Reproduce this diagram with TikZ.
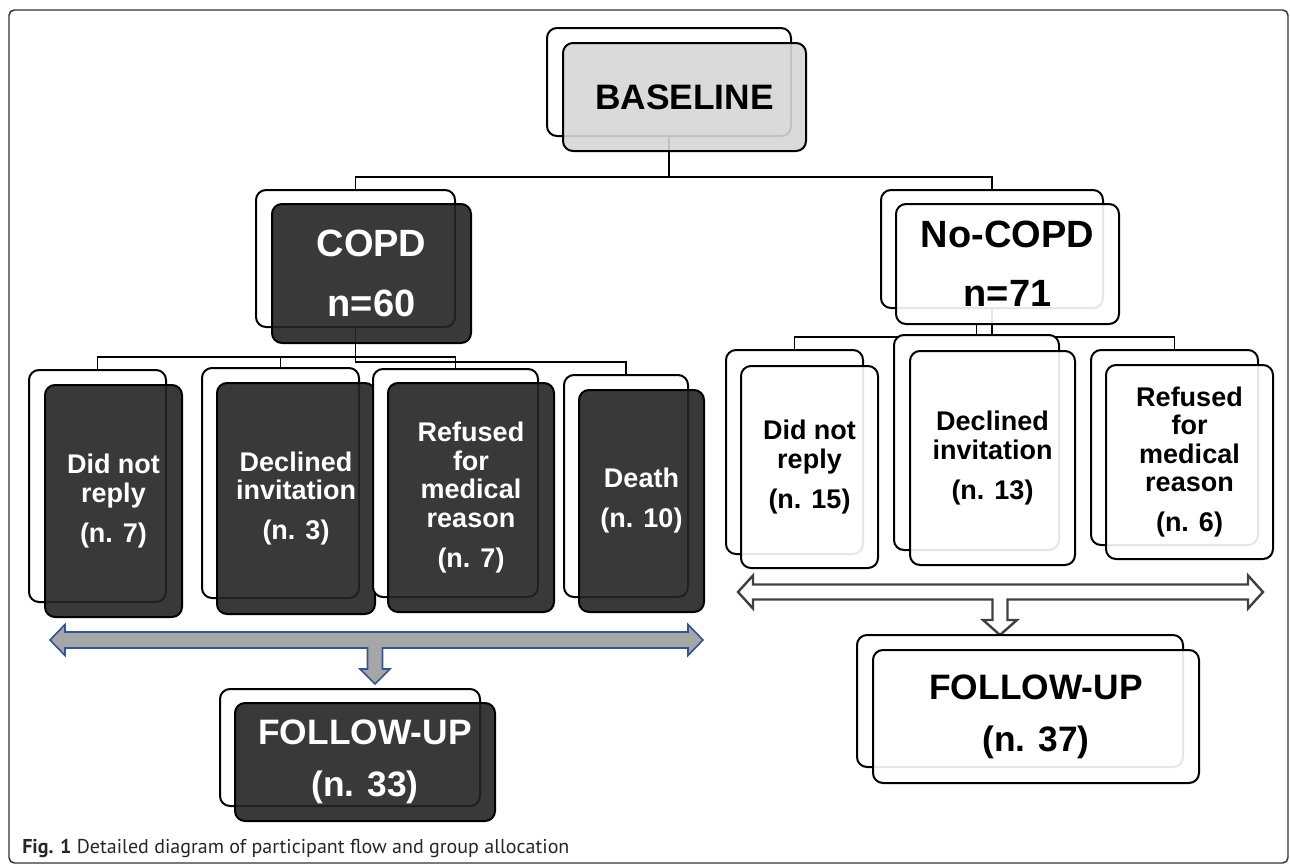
\documentclass[tikz,border=0pt]{standalone}
\usepackage{fontspec}
\setmainfont{Liberation Sans}
\newfontfamily\capfont{PT Sans}
\usetikzlibrary{fit}
\definecolor{boxdark}{RGB}{36,36,36}
\definecolor{basegray}{RGB}{214,214,214}
\definecolor{arrowgray}{RGB}{166,166,166}
\definecolor{arrowblue}{RGB}{50,85,150}
\definecolor{arrowdark}{RGB}{64,64,64}
\begin{document}
\begin{tikzpicture}[x=0.75pt,y=-0.75pt]
\tikzset{
  conn/.style={draw=black, line width=1.2pt},
  bx/.style={rounded corners=7.5pt, line width=1.5pt, draw=black, inner sep=0pt, outer sep=0pt},
  backbox/.style={bx, fill=white},
  frontbox/.style={bx, fill opacity=0.9},
  big/.style={font=\bfseries\fontsize{26.5}{44}\selectfont, align=center, inner sep=0pt},
  group/.style={font=\bfseries\fontsize{28.5}{44.5}\selectfont, align=center, inner sep=0pt},
  small/.style={font=\bfseries\fontsize{20.25}{21.4}\selectfont, align=center, inner sep=0pt},
}
\useasboundingbox (0,0) rectangle (1290,864);
% outer frame
\draw[line width=1.1pt, draw=black!80, rounded corners=4pt] (9,10) rectangle (1288,863);

% coordinates for boxes
\coordinate (bB1) at (547,28);  \coordinate (bB2) at (791,136);
\coordinate (bF1) at (563,43);  \coordinate (bF2) at (806,151);
\coordinate (cB1) at (256,190); \coordinate (cB2) at (455,327);
\coordinate (cF1) at (272,204); \coordinate (cF2) at (471,343);
\coordinate (nB1) at (881,190); \coordinate (nB2) at (1103,308);
\coordinate (nF1) at (896,204); \coordinate (nF2) at (1119,324);

% ---- connectors (drawn first, behind boxes) ----
\node[fit=(bB1)(bB2), inner sep=0pt] (baseBg) {};
\node[fit=(cB1)(cB2), inner sep=0pt] (copdBg) {};
\node[fit=(nB1)(nB2), inner sep=0pt] (nocBg) {};
\node[fit=(nF1)(nF2), inner sep=0pt] (nocFg) {};
\coordinate (l1t) at (97.5,370);
\coordinate (l2t) at (280.5,368);
\coordinate (l3t) at (455.5,369);
\coordinate (l4t) at (626,375);
\coordinate (r1t) at (794.5,350);
\coordinate (r2t) at (976.5,335);
\coordinate (r3t) at (1174.5,350);

\draw[conn] (baseBg.south) -- (669,177) coordinate (topbar);
\draw[conn] (copdBg.north) |- (topbar) -| (nocBg.north);
\draw[conn] (copdBg.south) -- (355.5,362) -| (l4t);
\draw[conn] (l1t) |- (355.5,357) coordinate (lbar);
\draw[conn] (lbar) -| (l3t);
\draw[conn] (l2t) -- (280.5,357);
\draw[conn] (nocBg.south) -- (992,337) coordinate (rbar);
\draw[conn] (r1t) |- (rbar) -| (r3t);
\draw[conn] (nocFg.south -| r2t) -- (r2t);

% ---- BASELINE ----
\node[backbox, fit=(bB1)(bB2)] (baseB) {};
\node[frontbox, fill=basegray, fit=(bF1)(bF2)] (baseF) {};
\node[big] (baseT) at (baseF.center) {BASELINE};

% ---- COPD ----
\node[backbox, fit=(cB1)(cB2)] (copdB) {};
\node[frontbox, fill=boxdark, fit=(cF1)(cF2)] (copdF) {};
\node[group, text=white] (copdT) at (copdF.center) {COPD\\n=60};

% ---- No-COPD ----
\node[backbox, fit=(nB1)(nB2)] (nocB) {};
\node[frontbox, fill=white, fit=(nF1)(nF2)] (nocF) {};
\node[group] (nocT) at (nocF.center) {No-COPD\\n=71};

% ---- COPD children ----
\node[backbox, fit={(29,370)(166,602)}] (l1B) {};
\node[frontbox, fill=boxdark, fit={(45,385)(182,617)}] (l1F) {};
\node[small, text=white] (l1T) at (l1F.center) {Did not\\reply\\[8.6pt](n. 7)};

\node[backbox, fit={(202,368)(359,598)}] (l2B) {};
\node[frontbox, fill=boxdark, fit={(217,383)(375,614)}] (l2F) {};
\node[small, text=white] (l2T) at (l2F.center) {Declined\\invitation\\[8.6pt](n. 3)};

\node[backbox, fit={(373,369)(538,597)}] (l3B) {};
\node[frontbox, fill=boxdark, fit={(388,383)(554,612)}] (l3F) {};
\node[small, text=white] (l3T) at (l3F.center) {Refused\\for\\medical\\reason\\[8.6pt](n. 7)};

\node[backbox, fit={(564,375)(688,597)}] (l4B) {};
\node[frontbox, fill=boxdark, fit={(579,390)(704,612)}] (l4F) {};
\node[small, text=white] (l4T) at (l4F.center) {Death\\[8.6pt](n. 10)};

% ---- No-COPD children ----
\node[backbox, fit={(726,350)(863,554)}] (r1B) {};
\node[frontbox, fill=white, fit={(741,366)(878,568)}] (r1F) {};
\node[small] (r1T) at (r1F.center) {Did not\\reply\\[8.6pt](n. 15)};

\node[backbox, fit={(894,335)(1059,550)}] (r2B) {};
\node[frontbox, fill=white, fit={(910,351)(1075,565)}] (r2F) {};
\node[small] (r2T) at (r2F.center) {Declined\\invitation\\[8.6pt](n. 13)};

\node[backbox, fit={(1091,350)(1258,545)}] (r3B) {};
\node[frontbox, fill=white, fit={(1106,365)(1273,559)}] (r3F) {};
\node[small] (r3T) at (r3F.center) {Refused\\for\\medical\\reason\\[8.6pt](n. 6)};

% ---- block arrows ----
\draw[line width=1.2pt, draw=arrowblue, fill=arrowgray, line join=miter]
  (50,640) -- (65,624.5) -- (65,632) -- (688,632) -- (688,624.5) -- (703,640)
  -- (688,655.5) -- (688,648) -- (382.5,648) -- (382.5,669) -- (390,669)
  -- (375,684) -- (360,669) -- (367.5,669) -- (367.5,648) -- (65,648)
  -- (65,655.5) -- cycle;
\draw[line width=1.8pt, draw=arrowdark, fill=white, line join=miter]
  (738,592) -- (753,575.5) -- (753,584.5) -- (1248,584.5) -- (1248,575.5)
  -- (1263,592) -- (1248,608.5) -- (1248,599.5) -- (1007.5,599.5)
  -- (1007.5,620) -- (1017,620) -- (1000,635) -- (983,620) -- (992.5,620)
  -- (992.5,599.5) -- (753,599.5) -- (753,608.5) -- cycle;

% ---- FOLLOW-UP boxes ----
\node[backbox, fit={(220,689)(480,806)}] (flB) {};
\node[frontbox, fill=boxdark, fit={(235,703)(495,821)}] (flF) {};
\node[big, text=white] (flT) at (flF.center) {FOLLOW-UP\\[-5pt](n. 33)};

\node[backbox, fit={(857,635)(1183,767)}] (frB) {};
\node[frontbox, fill=white, fit={(873,650)(1199,783)}] (frF) {};
\node[big] (frT) at (frF.center) {FOLLOW-UP\\[-5pt](n. 37)};

% ---- caption ----
\node[anchor=base west, inner sep=0pt, text=black!85,
      font=\capfont\fontsize{15}{18}\selectfont] (cap) at (22,853)
  {\textbf{Fig. 1} Detailed diagram of participant flow and group allocation};
\end{tikzpicture}
\end{document}
